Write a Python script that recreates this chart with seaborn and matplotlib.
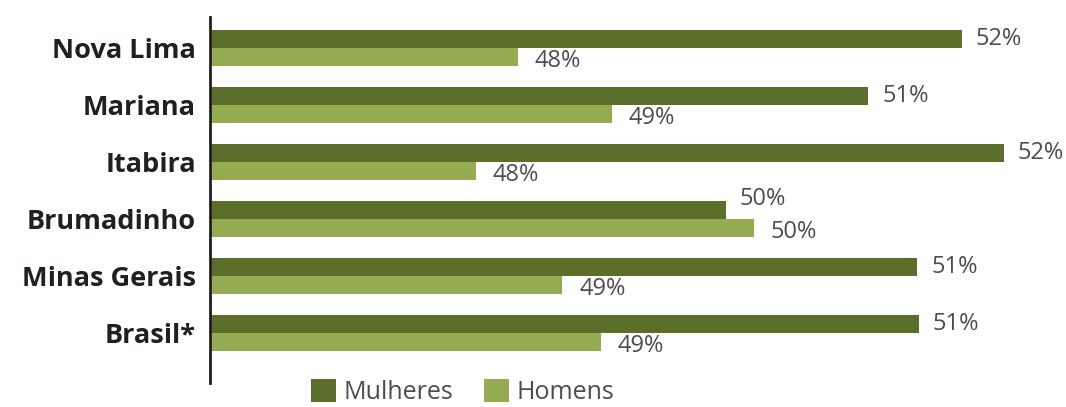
import numpy as np
import pandas as pd
import matplotlib.pyplot as plt
import seaborn as sns

# ----------------------------------------------------------------------
# DATA (share of population by sex, %)
# ----------------------------------------------------------------------
cidades = ["Nova Lima", "Mariana", "Itabira", "Brumadinho", "Minas Gerais", "Brasil*"]
mulheres = [51.85, 51.07, 52.20, 49.88, 51.48, 51.49]
homens = [48.15, 48.93, 47.80, 50.12, 48.52, 48.84]
series = ["Mulheres", "Homens"]

COR_ESCURA = "#5b6e2a"
COR_CLARA = "#95ab52"
COR_TEXTO = "#4d4d4d"

sns.set_style("white")
plt.rcParams["font.family"] = ["Open Sans", "DejaVu Sans"]

df = pd.DataFrame({
    "Cidade": cidades * 2,
    "Sexo": [series[0]] * len(cidades) + [series[1]] * len(cidades),
    "Valor": mulheres + homens,
})

fig = plt.figure(figsize=(10.66, 4.07), dpi=100)
ax = fig.add_axes([0.197, 0.059, 0.803, 0.899])

sns.barplot(data=df, y="Cidade", x="Valor", hue="Sexo", orient="h",
            palette=[COR_ESCURA, COR_CLARA], width=0.62, gap=0,
            saturation=1, linewidth=0, ax=ax, legend=True)

ax.set_xlim(45.58, 52.72)
ax.set_ylim(5.88, -0.54)
ax.set_xlabel("")
ax.set_ylabel("")
ax.set_xticks([])
sns.despine(ax=ax, top=True, right=True, bottom=True)
ax.spines["left"].set_color("#231f20")
ax.spines["left"].set_linewidth(2)
ax.tick_params(axis="y", length=0, pad=10)
for lbl in ax.get_yticklabels():
    lbl.set_fontsize(19.5)
    lbl.set_fontweight("bold")
    lbl.set_color("#231f20")

# value labels
for i, (w, m) in enumerate(zip(mulheres, homens)):
    perto = abs(w - m) < 0.5
    ax.annotate(f"{w:.0f}%", (w, i - 0.155), xytext=(10, 8 if perto else 0),
                textcoords="offset points", va="center", ha="left",
                fontsize=17, color=COR_TEXTO)
    ax.annotate(f"{m:.0f}%", (m, i + 0.155), xytext=(12, -3),
                textcoords="offset points", va="center", ha="left",
                fontsize=17, color=COR_TEXTO)

handles, labels = ax.get_legend_handles_labels()
ax.get_legend().remove()
fig.legend(handles, labels, loc="center", bbox_to_anchor=(0.434, 0.036),
           ncol=2, frameon=False, handlelength=1.0,
           handleheight=1.0, handletextpad=0.3, columnspacing=1.2,
           borderpad=0.1, labelcolor=COR_TEXTO, prop={"size": 18})

fig.savefig("out.png", dpi=100)
